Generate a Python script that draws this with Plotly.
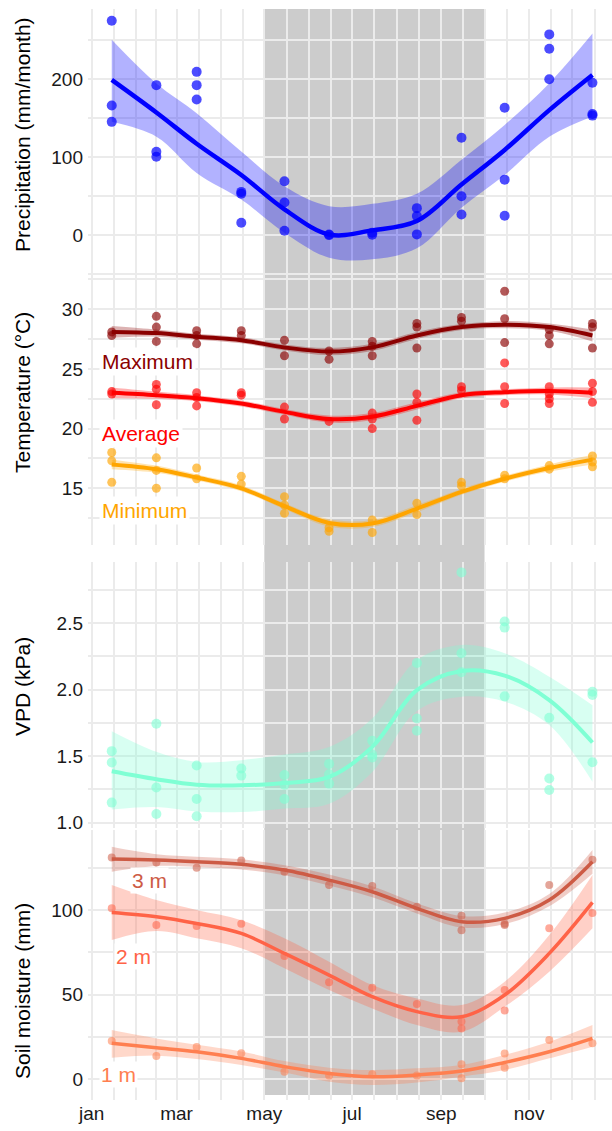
import plotly.graph_objects as go
from plotly.subplots import make_subplots
import pandas as pd

# ---------------- data ----------------
months = ["jan", "feb", "mar", "apr", "may", "jun", "jul", "aug", "sep", "oct", "nov", "dec"]
mid_dates = ["2001-%02d-15" % (i + 1) for i in range(12)]
tick_months = ["jan", "mar", "may", "jul", "sep", "nov"]
tick_dates = ["2001-01-01", "2001-03-01", "2001-05-01", "2001-07-01", "2001-09-01", "2001-11-01"]
dry_season = ["2001-05-01", "2001-10-01"]

# precipitation (mm/month): observed points per month, loess fit and its band
precip_points = [[274.5, 166, 145], [192, 106.8, 100.4], [209, 192, 173.6], [55.3, 53, 15.7],
                 [69, 41.7, 5.5], [0.8, 0.0], [0.4, 3], [34.5, 24.3, 0.9],
                 [124.7, 49.8, 26.4], [163, 71, 24.7], [257, 238.7, 199.6], [195, 155, 153]]
precip_fit = [198.7, 157, 117, 77, 33, 0.8, 6, 18, 64.7, 109, 160, 205]
precip_hi = [250, 194, 156, 107, 62.5, 37, 40, 53, 96.6, 141, 194.5, 258]
precip_lo = [145, 126, 79.6, 45.5, 3, -29, -31, -17, 35, 77, 126, 152]

# temperature (°C)
tmax_points = [[28.1, 27.8], [29.4, 28.5, 27.3], [28.2, 27.8, 27.1], [28.2, 27.8], [27.4, 26.1],
               [26.5, 25.8], [27.3, 26.9, 26.1], [28.8, 28.5, 26.75], [29.3, 29.0],
               [31.5, 29.2, 27.2], [28.3, 27.8, 27.1], [28.8, 28.5, 26.75]]
tmax_fit = [28.1, 28.0, 27.7, 27.4, 26.8, 26.45, 26.8, 27.8, 28.5, 28.7, 28.5, 27.8]
tmax_se = [0.5, 0.3, 0.25, 0.25, 0.25, 0.3, 0.3, 0.3, 0.25, 0.3, 0.3, 0.5]

tavg_points = [[23.1, 22.9], [23.7, 23.3, 22.0], [23.0, 22.6, 21.9], [23.0, 22.8], [21.8, 20.8],
               [20.6], [21.3, 20.8, 20.0], [22.9, 22.2, 20.7], [23.5, 23.2],
               [25.5, 23.5, 22.1], [23.5, 22.9, 22.5, 22.1], [23.8, 23.1, 22.2]]
tavg_fit = [23.0, 22.8, 22.55, 22.1, 21.4, 20.8, 21.0, 21.9, 22.8, 23.05, 23.15, 23.0]
tavg_se = [0.45, 0.3, 0.25, 0.25, 0.25, 0.3, 0.3, 0.3, 0.25, 0.25, 0.3, 0.45]

tmin_points = [[18.0, 17.3, 15.5], [17.55, 16.5, 15.0], [16.7, 15.8], [16.0, 15.35],
               [14.3, 13.6, 12.9], [11.7, 11.4], [12.35, 11.3], [13.75, 12.8],
               [15.5, 15.2], [16.1, 15.8], [16.9, 16.6], [17.7, 17.2, 16.8]]
tmin_fit = [17.0, 16.6, 15.9, 15.0, 13.5, 12.1, 12.05, 13.3, 14.7, 15.8, 16.7, 17.4]
tmin_se = [0.4, 0.3, 0.25, 0.25, 0.25, 0.3, 0.3, 0.3, 0.25, 0.25, 0.3, 0.4]

# vapour pressure deficit (kPa)
vpd_points = [[1.538, 1.452, 1.151], [1.744, 1.264, 1.065], [1.430, 1.178, 1.048], [1.407, 1.354],
              [1.359, 1.286, 1.178], [1.442, 1.364, 1.294], [1.616, 1.513, 1.49],
              [2.201, 1.784, 1.691], [2.882, 2.274, 2.131], [2.513, 2.467, 1.95],
              [1.789, 1.332, 1.246], [1.985, 1.96, 1.455]]
vpd_fit = [1.387, 1.327, 1.286, 1.281, 1.299, 1.344, 1.570, 1.997, 2.141, 2.106, 1.922, 1.603]
vpd_hi = [1.688, 1.533, 1.457, 1.470, 1.513, 1.570, 1.784, 2.224, 2.337, 2.274, 2.098, 1.884]
vpd_lo = [1.100, 1.118, 1.085, 1.080, 1.106, 1.143, 1.382, 1.84, 1.947, 1.910, 1.734, 1.307]

# soil moisture (mm) at three depths
soil3_points = [[131.1], [128.1], [125], [129.3], [122.6], [114.8], [114.2], [102],
                [96.7, 88], [91.9, 91.1], [114.8], [129.7]]
soil3_fit = [130.1, 129.5, 128.5, 127, 123.6, 117.7, 110.8, 101, 93.1, 95.1, 105.9, 128.5]
soil3_hi = [137.4, 133, 131.5, 130, 126.5, 121, 114, 104, 96.5, 98.5, 109.5, 135.5]
soil3_lo = [122.6, 126, 125.5, 124, 120.5, 114.5, 107.5, 98, 89.7, 91.7, 102.3, 121.5]

soil2_points = [[101], [91.1], [90.6], [91.9], [72.8], [57.3], [54.1], [44.5],
                [34.1, 30.1], [52.8, 40.6], [89.2], [98.2]]
soil2_fit = [98.6, 96.1, 92.1, 86.2, 74.4, 61.6, 48.8, 40, 37, 49.8, 74.4, 104.5]
soil2_hi = [114.8, 105.9, 100, 94, 83.3, 69.5, 55.7, 47.8, 43.9, 57.7, 85.2, 120.7]
soil2_lo = [82.3, 87.6, 83.3, 77.4, 65.6, 52.8, 41.9, 32.1, 28.1, 42.9, 63.6, 89.2]

soil1_points = [[22.6], [13.8], [19.1], [15.4], [4.5], [2.2], [3], [2.2],
                [8.9, 0.6], [15.2, 6.9], [23.2], [21.3]]
soil1_fit = [21.3, 18.7, 16.3, 12.4, 7.5, 3.5, 1.6, 2.6, 4.9, 10, 16.3, 24.2]
soil1_hi = [29.1, 24.2, 20.5, 16.5, 10.8, 6.9, 5.5, 6.5, 8.5, 14.4, 22.2, 32.1]
soil1_lo = [12.8, 14, 12, 8.5, 4.0, -1.4, -3.3, -1.8, 1.6, 5.5, 12.4, 19.3]

# ---------------- figure ----------------
FONT = "Liberation Sans, Arial, sans-serif"
GRID = "#EBEBEB"

fig = make_subplots(rows=4, cols=1, shared_xaxes=True)


def rgba(hexcol, a):
    h = hexcol.lstrip("#")
    r, g, b = int(h[0:2], 16), int(h[2:4], 16), int(h[4:6], 16)
    return "rgba(%d,%d,%d,%s)" % (r, g, b, a)


def flatten(points):
    xs, ys = [], []
    for d, vals in zip(mid_dates, points):
        for v in vals:
            xs.append(d)
            ys.append(v)
    return xs, ys


def add_series(row, points, fit, lo, hi, color, pt_alpha, pt_size, lw, band_alpha=0.3):
    fig.add_trace(go.Scatter(x=mid_dates, y=lo, mode="lines",
                             line=dict(width=0, shape="spline", color=color),
                             hoverinfo="skip", showlegend=False), row=row, col=1)
    fig.add_trace(go.Scatter(x=mid_dates, y=hi, mode="lines",
                             line=dict(width=0, shape="spline", color=color),
                             fill="tonexty", fillcolor=rgba(color, band_alpha),
                             hoverinfo="skip", showlegend=False), row=row, col=1)
    px, py = flatten(points)
    fig.add_trace(go.Scatter(x=px, y=py, mode="markers",
                             marker=dict(size=pt_size, color=rgba(color, pt_alpha), line=dict(width=0)),
                             showlegend=False), row=row, col=1)
    fig.add_trace(go.Scatter(x=mid_dates, y=fit, mode="lines",
                             line=dict(width=lw, shape="spline", color=color),
                             showlegend=False), row=row, col=1)


add_series(1, precip_points, precip_fit, precip_lo, precip_hi, "#0000FF", 0.7, 10, 4.5)

for pts, fit, se, col in [(tmax_points, tmax_fit, tmax_se, "#8B0000"),
                          (tavg_points, tavg_fit, tavg_se, "#FF0000"),
                          (tmin_points, tmin_fit, tmin_se, "#FFA500")]:
    lo = [f - s for f, s in zip(fit, se)]
    hi = [f + s for f, s in zip(fit, se)]
    add_series(2, pts, fit, lo, hi, col, 0.65, 9, 4)

add_series(3, vpd_points, vpd_fit, vpd_lo, vpd_hi, "#7FFFD4", 0.6, 10, 4)

add_series(4, soil3_points, soil3_fit, soil3_lo, soil3_hi, "#CD5B45", 0.55, 8, 3.5)
add_series(4, soil2_points, soil2_fit, soil2_lo, soil2_hi, "#FF6347", 0.55, 8, 3.5)
add_series(4, soil1_points, soil1_fit, soil1_lo, soil1_hi, "#FF7F50", 0.55, 8, 3.5)

# x grid: labelled every two months, minor at other month starts and month midpoints
starts = pd.date_range("2001-01-01", "2002-01-01", freq="MS")
mids = starts[:-1] + (starts[1:] - starts[:-1]) / 2
minor_vals = [d.strftime("%Y-%m-%d %H:%M") for d in starts[:-1] if d.month % 2 == 0]
minor_vals += [d.strftime("%Y-%m-%d %H:%M") for d in mids]

fig.update_xaxes(type="date", range=["2000-12-29 12:00", "2001-12-28 14:00"], automargin=False,
                 tickmode="array", tickvals=tick_dates, ticktext=tick_months,
                 showgrid=True, gridcolor=GRID, gridwidth=2, zeroline=False, showline=False,
                 ticks="", tickfont=dict(family=FONT, size=19, color="#1A1A1A"),
                 minor=dict(tickvals=minor_vals, showgrid=True, gridcolor=GRID, gridwidth=1.6, ticks=""))

common_y = dict(showgrid=True, gridcolor=GRID, gridwidth=2, zeroline=False, showline=False,
                automargin=False, ticks="", tickfont=dict(family=FONT, size=19, color="#1A1A1A"),
                ticklabelstandoff=4)
fig.update_yaxes(row=1, col=1, range=[-53.6, 289.5], tickvals=[0, 100, 200],
                 minor=dict(tick0=0, dtick=50, showgrid=True, gridcolor=GRID, gridwidth=1.5), **common_y)
fig.update_yaxes(row=2, col=1, range=[10.25, 32.7], tickvals=[15, 20, 25, 30],
                 minor=dict(tick0=0, dtick=2.5, showgrid=True, gridcolor=GRID, gridwidth=1.5), **common_y)
fig.update_yaxes(row=3, col=1, range=[0.96, 2.96], tickvals=[1.0, 1.5, 2.0, 2.5],
                 ticktext=["1.0", "1.5", "2.0", "2.5"],
                 minor=dict(tick0=0, dtick=0.25, showgrid=True, gridcolor=GRID, gridwidth=1.5), **common_y)
fig.update_yaxes(row=4, col=1, range=[-12.2, 147.3], tickvals=[0, 50, 100],
                 minor=dict(tick0=0, dtick=25, showgrid=True, gridcolor=GRID, gridwidth=1.5), **common_y)

fig.update_layout(
    yaxis=dict(domain=[0.7544, 1.0]),
    yaxis2=dict(domain=[0.5087, 0.7544]),
    yaxis3=dict(domain=[0.2493, 0.4931]),
    yaxis4=dict(domain=[0.0, 0.2475]),
)

# dry season band across all panels
fig.add_shape(type="rect", xref="x", yref="paper", x0=dry_season[0], x1=dry_season[1],
              y0=0.0046, y1=1.0, fillcolor="#CCCCCC", line=dict(width=0), layer="below")

# axis titles
titles = [("Precipitation (mm/month)", 135), ("Temperature (°C)", 393),
          ("VPD (kPa)", 687), ("Soil moisture (mm)", 991)]
for text, ypx in titles:
    fig.add_annotation(text=text, xref="paper", yref="paper", x=(22 - 88) / 524.0,
                       y=(1100 - ypx) / 1091.0, textangle=-90, showarrow=False,
                       xanchor="center", yanchor="middle",
                       font=dict(family=FONT, size=21, color="#000000"))

# series labels
for text, x, y, col in [("Maximum", "2001-01-06", 25.58, "#8B0000"),
                        ("Average", "2001-01-06", 19.55, "#FF0000"),
                        ("Minimum", "2001-01-06", 13.1, "#FFA500")]:
    fig.add_annotation(text=text, x=x, y=y, xref="x2", yref="y2", showarrow=False,
                       xanchor="left", yanchor="middle", bgcolor="white", borderpad=2,
                       font=dict(family=FONT, size=21, color=col))
for text, x, y, col in [("3 m", "2001-02-10", 117.4, "#CD5B45"),
                        ("2 m", "2001-01-30", 72.4, "#FF6347"),
                        ("1 m", "2001-01-20", 3.1, "#FF7F50")]:
    fig.add_annotation(text=text, x=x, y=y, xref="x4", yref="y4", showarrow=False,
                       xanchor="center", yanchor="middle", bgcolor="white", borderpad=1,
                       font=dict(family=FONT, size=21, color=col))

fig.update_layout(width=612, height=1131, margin=dict(l=88, r=0, t=9, b=31, autoexpand=False),
                  paper_bgcolor="white", plot_bgcolor="rgba(0,0,0,0)",
                  showlegend=False, font=dict(family=FONT))

# the page's default 8px body margin would shift the whole figure; remove it
fig.write_html("out.html", config={"displayModeBar": False},
               post_script="document.body.style.margin='0px';document.body.style.overflow='hidden';")
